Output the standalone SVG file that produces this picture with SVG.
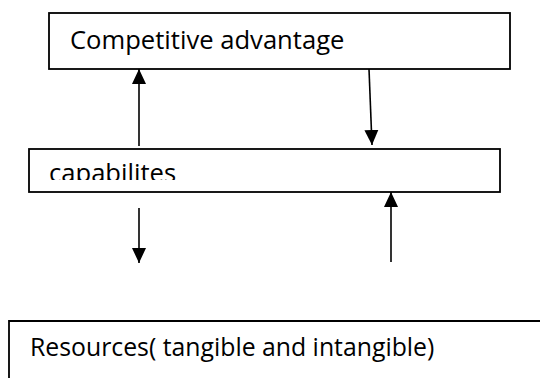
<svg xmlns="http://www.w3.org/2000/svg" width="540" height="378" viewBox="0 0 540 378">
  <style>
    .box { fill: #ffffff; stroke: #000000; stroke-width: 1.8; }
    .label { font-family: "Open Sans", "Noto Sans", sans-serif; font-size: 25.6px; fill: #000000; }
    .conn { stroke: #000000; stroke-width: 1.6; fill: none; marker-end: url(#arrow); }
  </style>
  <defs>
    <marker id="arrow" viewBox="0 0 15 15" refX="15" refY="7.5" markerWidth="15" markerHeight="15" markerUnits="userSpaceOnUse" orient="auto">
      <path d="M0,0.5 L15,7.5 L0,14.5 Z" fill="#000000"/>
    </marker>
    <clipPath id="capClip">
      <rect x="30" y="150" width="470" height="30"/>
    </clipPath>
  </defs>
  <rect width="540" height="378" fill="#ffffff"/>

  <g id="node-competitive-advantage">
    <rect class="box" x="49" y="13" width="461" height="56"/>
    <text class="label" x="70" y="49">Competitive advantage</text>
  </g>

  <g id="node-capabilites">
    <rect class="box" x="29" y="149" width="471" height="43"/>
    <text class="label" x="49" y="182" clip-path="url(#capClip)">capabilites</text>
  </g>

  <g id="node-resources">
    <path class="box" d="M9,378 L9,321 L541,321" fill="none"/>
    <text class="label" x="30" y="356" style="font-size:24.8px">Resources( tangible and intangible)</text>
  </g>

  <g id="connectors">
    <line class="conn" x1="139" y1="146" x2="139" y2="69"/>
    <line class="conn" x1="369" y1="69" x2="372" y2="145"/>
    <line class="conn" x1="139" y1="208" x2="139" y2="263"/>
    <line class="conn" x1="391" y1="262" x2="391" y2="192"/>
  </g>
</svg>
